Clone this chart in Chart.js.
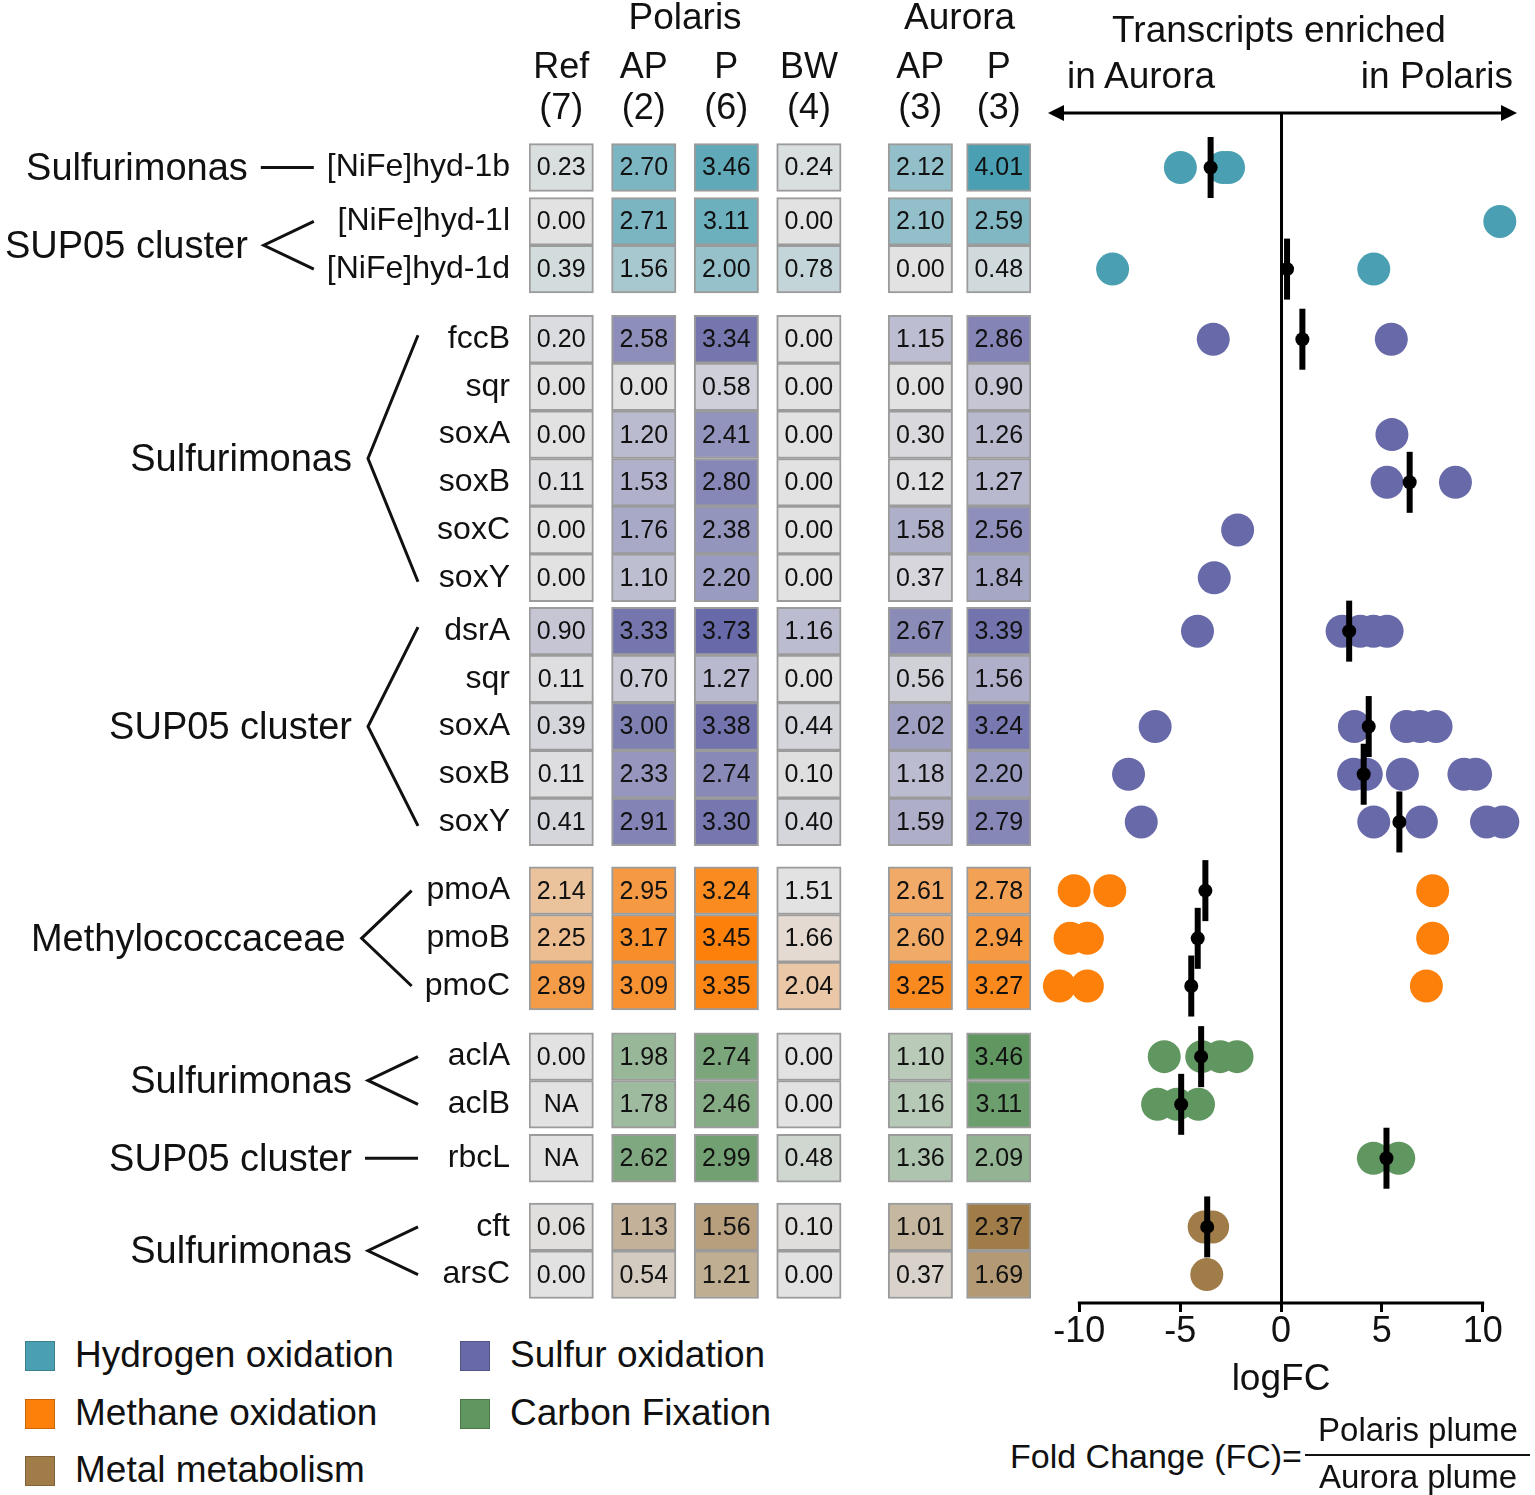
<!DOCTYPE html>
<html>
<head>
<meta charset="utf-8">
<script src="https://cdn.jsdelivr.net/npm/chart.js@4.4.1/dist/chart.umd.min.js"></script>
<style>
  body { margin: 0; background: #fff; width: 1535px; height: 1495px; position: relative; overflow: hidden;
         font-family: Arial, "Liberation Sans", sans-serif; color: #111; }
  canvas { position: absolute; }
  .t { position: absolute; white-space: nowrap; font-size: 37px; line-height: 42px; }
  .sq { position: absolute; width: 28px; height: 28px; border: 1px solid; }
</style>
</head>
<body>
<canvas id="heat" width="1040" height="1320" style="left:0px;top:0px"></canvas>
<canvas id="fc" width="505" height="1420" style="left:1030px;top:0px"></canvas>

<div class="t" style="left:1279px;top:9px;transform:translateX(-50%)">Transcripts enriched</div>
<div class="t" style="left:1067px;top:55px">in Aurora</div>
<div class="t" style="right:22px;top:55px">in Polaris</div>

<div id="legend"></div>

<div class="t" style="left:1010px;top:1436px;font-size:34px;line-height:40px">Fold Change (FC)=</div>
<div class="t" style="left:1418px;top:1410px;font-size:33px;line-height:40px;transform:translateX(-50%)">Polaris plume</div>
<div style="position:absolute;left:1305px;top:1454px;width:225px;height:2px;background:#111"></div>
<div class="t" style="left:1418px;top:1457px;font-size:33px;line-height:40px;transform:translateX(-50%)">Aurora plume</div>

<script>
// gene rows, top to bottom
const genes = ['[NiFe]hyd-1b', '[NiFe]hyd-1l', '[NiFe]hyd-1d',
  'fccB', 'sqr', 'soxA', 'soxB', 'soxC', 'soxY',
  'dsrA', 'sqr', 'soxA', 'soxB', 'soxY',
  'pmoA', 'pmoB', 'pmoC',
  'aclA', 'aclB', 'rbcL',
  'cft', 'arsC'];
// pathway of each row: H hydrogen, S sulfur, M methane, C carbon, X metal
const pathway = ['H', 'H', 'H', 'S', 'S', 'S', 'S', 'S', 'S', 'S', 'S', 'S', 'S', 'S',
  'M', 'M', 'M', 'C', 'C', 'C', 'X', 'X'];

const colHeads = [['Ref', '(7)'], ['AP', '(2)'], ['P', '(6)'], ['BW', '(4)'], ['AP', '(3)'], ['P', '(3)']];
const sites = ['Polaris', 'Aurora'];
const siteFirstCol = [0, 4];
const siteLastCol = [3, 5];

const refVals = [0.23, 0.00, 0.39, 0.20, 0.00, 0.00, 0.11, 0.00, 0.00, 0.90, 0.11, 0.39, 0.11, 0.41, 2.14, 2.25, 2.89, 0.00, null, null, 0.06, 0.00];
const polAP   = [2.70, 2.71, 1.56, 2.58, 0.00, 1.20, 1.53, 1.76, 1.10, 3.33, 0.70, 3.00, 2.33, 2.91, 2.95, 3.17, 3.09, 1.98, 1.78, 2.62, 1.13, 0.54];
const polP    = [3.46, 3.11, 2.00, 3.34, 0.58, 2.41, 2.80, 2.38, 2.20, 3.73, 1.27, 3.38, 2.74, 3.30, 3.24, 3.45, 3.35, 2.74, 2.46, 2.99, 1.56, 1.21];
const polBW   = [0.24, 0.00, 0.78, 0.00, 0.00, 0.00, 0.00, 0.00, 0.00, 1.16, 0.00, 0.44, 0.10, 0.40, 1.51, 1.66, 2.04, 0.00, 0.00, 0.48, 0.10, 0.00];
const aurAP   = [2.12, 2.10, 0.00, 1.15, 0.00, 0.30, 0.12, 1.58, 0.37, 2.67, 0.56, 2.02, 1.18, 1.59, 2.61, 2.60, 3.25, 1.10, 1.16, 1.36, 1.01, 0.37];
const aurP    = [4.01, 2.59, 0.48, 2.86, 0.90, 1.26, 1.27, 2.56, 1.84, 3.39, 1.56, 3.24, 2.20, 2.79, 2.78, 2.94, 3.27, 3.46, 3.11, 2.09, 2.37, 1.69];
const columns = [refVals, polAP, polP, polBW, aurAP, aurP];

// taxa brackets
const taxonLabels = ['Sulfurimonas', 'SUP05 cluster', 'Sulfurimonas', 'SUP05 cluster', 'Methylococcaceae', 'Sulfurimonas', 'SUP05 cluster', 'Sulfurimonas'];
const taxonFirst = [0, 1, 3, 9, 14, 17, 19, 20];
const taxonLast  = [0, 2, 8, 13, 16, 18, 19, 21];

// logFC of single contigs per row, and the mean marker
const dotsFC = [
  [-4.99, -2.87, -2.6],
  [10.85],
  [-8.35, 4.6],
  [-3.36, 5.47],
  [],
  [5.5],
  [5.26, 8.65],
  [-2.15],
  [-3.31],
  [-4.14, 3.03, 3.93, 4.58, 5.26],
  [],
  [-6.24, 3.64, 6.22, 6.91, 7.69],
  [-7.56, 3.6, 4.23, 6.02, 9.07, 9.65],
  [-6.93, 4.6, 6.96, 10.19, 11.0],
  [-10.26, -8.49, 7.52],
  [-10.46, -9.6, 7.52],
  [-10.99, -9.6, 7.21],
  [-5.79, -3.93, -3.01, -2.18],
  [-6.12, -5.16, -4.09],
  [4.58, 5.84],
  [-3.81, -3.39],
  [-3.68]
];
const meanFC = [-3.49, null, 0.3, 1.06, null, null, 6.38, null, null, 3.38, null, 4.35, 4.1, 5.87,
  -3.75, -4.13, -4.45, -3.96, -4.95, 5.23, -3.66, null];
const fcTicks = [-10, -5, 0, 5, 10];

const pathwayNames = ['Hydrogen oxidation', 'Sulfur oxidation', 'Methane oxidation', 'Carbon Fixation', 'Metal metabolism'];
const pathwayKeys = ['H', 'S', 'M', 'C', 'X'];

// ---- look ----
const FONT = 'Arial, "Liberation Sans", sans-serif';
const pathwayColor = { H: [74, 160, 178], S: [104, 105, 168], M: [252, 128, 10], C: [96, 150, 96], X: [160, 124, 72] };
const GRAY = [226, 226, 226];
const rgb = c => `rgb(${c.map(Math.round).join(',')})`;

// layout: extra spacing before each row (in row heights), column centres
const rowGap = [0, 0.13, 0, 0.47, 0, 0, 0, 0, 0, 0.12, 0, 0, 0, 0, 0.44, 0, 0, 0.48, 0, 0.13, 0.44, 0];
const rowPos = [];
rowGap.reduce((acc, g, i) => { const p = acc + (i ? 1 : 0) + g; rowPos.push(p); return p; }, 0);
const colPos = [0, 1, 2, 3, 4.35, 5.3];
const HALF = 0.39;
const ROW_H = 47.7, TOP = 113, HEAT_TOP = 135, BOTTOM = 1303, ROW0 = 167.5, LABEL_RIGHT = 510;
const GENE_FONT = 32, TAXON_FONT = 38;
const yMax = (BOTTOM - ROW0) / ROW_H;

// colour range per pathway
const range = {};
pathway.forEach((p, r) => columns.forEach(col => {
  const v = col[r];
  if (v == null) return;
  range[p] = range[p] || { min: Infinity, max: -Infinity };
  range[p].min = Math.min(range[p].min, v);
  range[p].max = Math.max(range[p].max, v);
}));
function cellColor(v, p) {
  if (v == null) return rgb(GRAY);
  const f = Math.max(0, Math.min(1, (v - range[p].min) / (range[p].max - range[p].min)));
  return rgb(GRAY.map((g, i) => g + (pathwayColor[p][i] - g) * f));
}

// no automatic edge padding for the scales, the layout is fixed
const noEdgePad = s => { s.paddingLeft = 0; s.paddingRight = 0; s.paddingTop = 0; s.paddingBottom = 0; };

// legend
const legend = document.getElementById('legend');
pathwayNames.forEach((name, i) => {
  const col = i % 2, row = Math.floor(i / 2);
  const cy = [1355, 1413, 1470][row];
  const c = pathwayColor[pathwayKeys[i]];
  legend.insertAdjacentHTML('beforeend',
    `<div class="sq" style="left:${col ? 460 : 25}px;top:${cy - 14}px;background:${rgb(c)};border-color:${rgb(c.map(v => v * 0.8))}"></div>` +
    `<div class="t" style="left:${col ? 510 : 75}px;top:${cy - 21}px">${name}</div>`);
});

// ---- heatmap ----
const cellLabels = {
  id: 'cellLabels',
  afterDatasetsDraw(chart) {
    const ctx = chart.ctx;
    ctx.save();
    ctx.font = '25px ' + FONT;
    ctx.fillStyle = '#111';
    ctx.textAlign = 'center';
    ctx.textBaseline = 'middle';
    chart.data.datasets.forEach((ds, d) => {
      chart.getDatasetMeta(d).data.forEach((el, i) => {
        const v = ds.data[i].v;
        ctx.fillText(v == null ? 'NA' : v.toFixed(2), (el.x + el.base) / 2, el.y + 1);
      });
    });
    ctx.restore();
  }
};

const taxaBrackets = {
  id: 'taxaBrackets',
  afterDraw(chart) {
    const { ctx, scales: { x, y } } = chart;
    ctx.save();
    ctx.fillStyle = '#111';
    ctx.strokeStyle = '#111';
    ctx.lineWidth = 3;
    ctx.textBaseline = 'middle';
    // site headers
    ctx.font = '37px ' + FONT;
    ctx.textAlign = 'center';
    sites.forEach((s, i) => {
      const cx = (x.getPixelForValue(colPos[siteFirstCol[i]]) + x.getPixelForValue(colPos[siteLastCol[i]])) / 2;
      ctx.fillText(s, cx, 19);
    });
    taxonLabels.forEach((label, t) => {
      const a = taxonFirst[t], b = taxonLast[t];
      ctx.font = GENE_FONT + 'px ' + FONT;
      let left = Infinity;
      for (let r = a; r <= b; r++) left = Math.min(left, LABEL_RIGHT - ctx.measureText(genes[r]).width);
      const armX = Math.min(418, left - 13);
      const vx = armX - 50;
      const ya = y.getPixelForValue(rowPos[a]), yb = y.getPixelForValue(rowPos[b]);
      const ym = (ya + yb) / 2;
      ctx.beginPath();
      if (a === b) {
        ctx.moveTo(vx - 3, ym); ctx.lineTo(armX, ym);
      } else {
        const ext = b - a > 3 ? 4 : 0;
        ctx.moveTo(armX, ya - ext); ctx.lineTo(vx, ym); ctx.lineTo(armX, yb + ext);
      }
      ctx.stroke();
      ctx.font = TAXON_FONT + 'px ' + FONT;
      ctx.textAlign = 'right';
      ctx.fillText(label, vx - 16, ym + 2);
    });
    ctx.restore();
  }
};

const cellDatasets = columns.map((vals, c) => ({
  data: vals.map((v, r) => ({ x: [colPos[c] - HALF, colPos[c] + HALF], y: rowPos[r], v: v, r: r })),
  backgroundColor: ctx => ctx.raw ? cellColor(ctx.raw.v, pathway[ctx.raw.r]) : rgb(GRAY),
  borderColor: '#9b9b9b',
  borderWidth: 2,
  borderSkipped: false,
  barThickness: ROW_H,
  grouped: false
}));

new Chart(document.getElementById('heat'), {
  type: 'bar',
  data: { datasets: cellDatasets },
  options: {
    indexAxis: 'y',
    responsive: false,
    animation: false,
    events: [],
    layout: { autoPadding: false, padding: { left: 0, right: 9, top: 0, bottom: 1320 - BOTTOM } },
    plugins: { legend: { display: false }, tooltip: { enabled: false } },
    scales: {
      x: {
        type: 'linear', position: 'top',
        min: colPos[0] - HALF, max: colPos[colPos.length - 1] + HALF,
        afterBuildTicks: s => { s.ticks = colPos.map(v => ({ value: v })); },
        afterFit: s => { s.height = HEAT_TOP; noEdgePad(s); },
        grid: { display: false, drawTicks: false }, border: { display: false },
        ticks: { callback: (v, i) => colHeads[i], padding: 6, autoSkip: false, maxRotation: 0,
                 color: '#111', font: { size: 36, family: FONT, lineHeight: 1.13 } }
      },
      y: {
        type: 'linear', reverse: true, offset: false, min: (HEAT_TOP - ROW0) / ROW_H, max: yMax,
        afterBuildTicks: s => { s.ticks = rowPos.map(v => ({ value: v })); },
        afterFit: s => { s.width = 529; noEdgePad(s); },
        grid: { display: false, offset: false, drawTicks: false }, border: { display: false },
        ticks: { callback: (v, i) => genes[i], padding: 529 - LABEL_RIGHT, autoSkip: false,
                 color: '#111', font: { size: GENE_FONT, family: FONT } }
      }
    }
  },
  plugins: [cellLabels, taxaBrackets]
});

// ---- fold change dots ----
const contigPts = [];
dotsFC.forEach((arr, r) => arr.forEach(v => contigPts.push({ x: v, y: rowPos[r], r: r })));
const meanPts = [];
meanFC.forEach((v, r) => { if (v != null) meanPts.push({ x: v, y: rowPos[r] }); });

const axisDecor = {
  id: 'axisDecor',
  afterDraw(chart) {
    const { ctx, chartArea, scales: { x } } = chart;
    ctx.save();
    ctx.strokeStyle = '#000';
    ctx.fillStyle = '#000';
    ctx.lineWidth = 3;
    // bottom axis line between the outer ticks
    ctx.beginPath();
    ctx.moveTo(x.getPixelForValue(fcTicks[0]) - 1.5, chartArea.bottom);
    ctx.lineTo(x.getPixelForValue(fcTicks[fcTicks.length - 1]) + 1.5, chartArea.bottom);
    ctx.stroke();
    // double arrow on top
    const y0 = chartArea.top, l = 18, r = 487;
    ctx.beginPath(); ctx.moveTo(l + 10, y0); ctx.lineTo(r - 10, y0); ctx.stroke();
    ctx.beginPath(); ctx.moveTo(l, y0); ctx.lineTo(l + 16, y0 - 8); ctx.lineTo(l + 16, y0 + 8); ctx.closePath(); ctx.fill();
    ctx.beginPath(); ctx.moveTo(r, y0); ctx.lineTo(r - 16, y0 - 8); ctx.lineTo(r - 16, y0 + 8); ctx.closePath(); ctx.fill();
    ctx.restore();
  }
};

new Chart(document.getElementById('fc'), {
  type: 'scatter',
  data: {
    datasets: [
      { data: meanPts, pointStyle: 'circle', radius: 7, backgroundColor: '#000', borderWidth: 0, order: 0, clip: false },
      { data: meanPts, pointStyle: 'line', rotation: 90, radius: 30.5, borderColor: '#000', borderWidth: 6, order: 1, clip: false },
      { data: contigPts, pointStyle: 'circle', radius: 16.5, borderWidth: 0, order: 2, clip: false,
        backgroundColor: ctx => ctx.raw ? rgb(pathwayColor[pathway[ctx.raw.r]]) : '#000' }
    ]
  },
  options: {
    responsive: false,
    animation: false,
    events: [],
    layout: { autoPadding: false, padding: { left: 9, right: 12, top: TOP, bottom: 0 } },
    plugins: { legend: { display: false }, tooltip: { enabled: false } },
    scales: {
      x: {
        type: 'linear', min: -12, max: 12,
        afterBuildTicks: s => { s.ticks = fcTicks.map(v => ({ value: v })); },
        afterFit: s => { s.height = 1420 - BOTTOM; noEdgePad(s); },
        grid: { color: c => (c.tick && c.tick.value === 0) ? '#000' : 'rgba(0,0,0,0)', lineWidth: 3,
                tickColor: '#000', tickLength: 9, tickWidth: 3 },
        border: { display: false },
        ticks: { color: '#111', padding: -2, font: { size: 36, family: FONT } },
        title: { display: true, text: 'logFC', color: '#111', font: { size: 37, family: FONT }, padding: { top: 0, bottom: 18 } }
      },
      y: { type: 'linear', display: false, reverse: true, min: (TOP - ROW0) / ROW_H, max: yMax, afterFit: noEdgePad }
    }
  },
  plugins: [axisDecor]
});
</script>
</body>
</html>
